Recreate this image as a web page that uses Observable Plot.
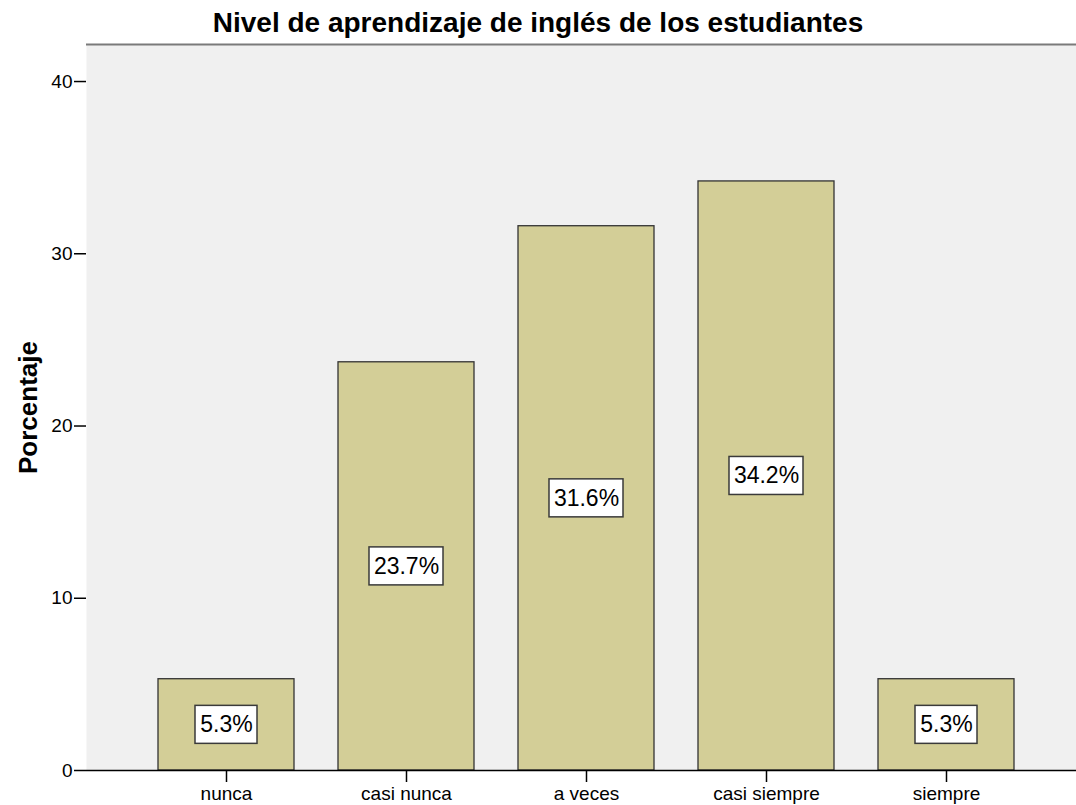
<!DOCTYPE html>
<html>
<head>
<meta charset="utf-8">
<script src="https://cdn.jsdelivr.net/npm/d3@7"></script>
<script src="https://cdn.jsdelivr.net/npm/@observablehq/plot@0.6"></script>
<style>
  html, body { margin: 0; padding: 0; background: white; }
  #title { width: 1076px; height: 43px; line-height: 46px; overflow: hidden; text-align: center;
           font-family: "Liberation Sans", Arial, sans-serif; font-weight: bold; font-size: 28px; color: #000; }
  #chart svg { display: block; }
</style>
</head>
<body>
<div id="title">Nivel de aprendizaje de inglés de los estudiantes</div>
<div id="chart"></div>
<script>
const categories = ["nunca", "casi nunca", "a veces", "casi siempre", "siempre"];
const percentages = [5.3, 23.7, 31.6, 34.2, 5.3];
const yTicks = [0, 10, 20, 30, 40];
const yMax = 42.15;
const yLabel = "Porcentaje";

const data = categories.map((c, i) => ({
  category: c,
  value: percentages[i],
  label: percentages[i].toFixed(1) + "%"
}));

const boxBase = {
  x: "category",
  y1: d => d.value / 2,
  y2: d => d.value / 2,
  insetTop: -19,
  insetBottom: -19,
  fill: "white",
  stroke: "#3a3a3a",
  strokeWidth: 1.5
};

const chart = Plot.plot({
  width: 1076,
  height: 762,
  marginTop: 1,
  marginBottom: 35,
  marginLeft: 86,
  marginRight: 0,
  style: { fontFamily: "'Liberation Sans', Arial, sans-serif", fontSize: "19px", color: "black", background: "white" },
  x: { domain: categories, paddingInner: 0.2444, paddingOuter: 0.372, align: 0.537 },
  y: { domain: [0, yMax] },
  marks: [
    Plot.frame({ fill: "#f0f0f0", stroke: null }),
    Plot.ruleY([yMax], { stroke: "#7a7a7a", strokeWidth: 2 }),
    Plot.barY(data, { x: "category", y: "value", fill: "#d3ce97", stroke: "#333", strokeWidth: 1.3 }),
    Plot.barY(data.filter(d => d.label.length === 4), { ...boxBase, insetLeft: 37, insetRight: 37 }),
    Plot.barY(data.filter(d => d.label.length === 5), { ...boxBase, insetLeft: 31, insetRight: 31 }),
    Plot.text(data, { x: "category", y: d => d.value / 2, text: "label", fontSize: 23, fill: "black" }),
    Plot.text([yLabel], { frameAnchor: "left", textAnchor: "middle", lineAnchor: "middle", rotate: -90, dx: -58, fontWeight: "bold", fontSize: 26, fill: "black" }),
    Plot.ruleY([0], { stroke: "black", strokeWidth: 1.5 }),
    Plot.axisY({ ticks: yTicks, tickSize: 12, tickPadding: 2, label: null, line: true, stroke: "black", strokeWidth: 1.5 }),
    Plot.axisX({ tickSize: 12, tickPadding: 4, label: null, stroke: "black", strokeWidth: 1.5 })
  ]
});
document.getElementById("chart").appendChild(chart);
</script>
</body>
</html>
